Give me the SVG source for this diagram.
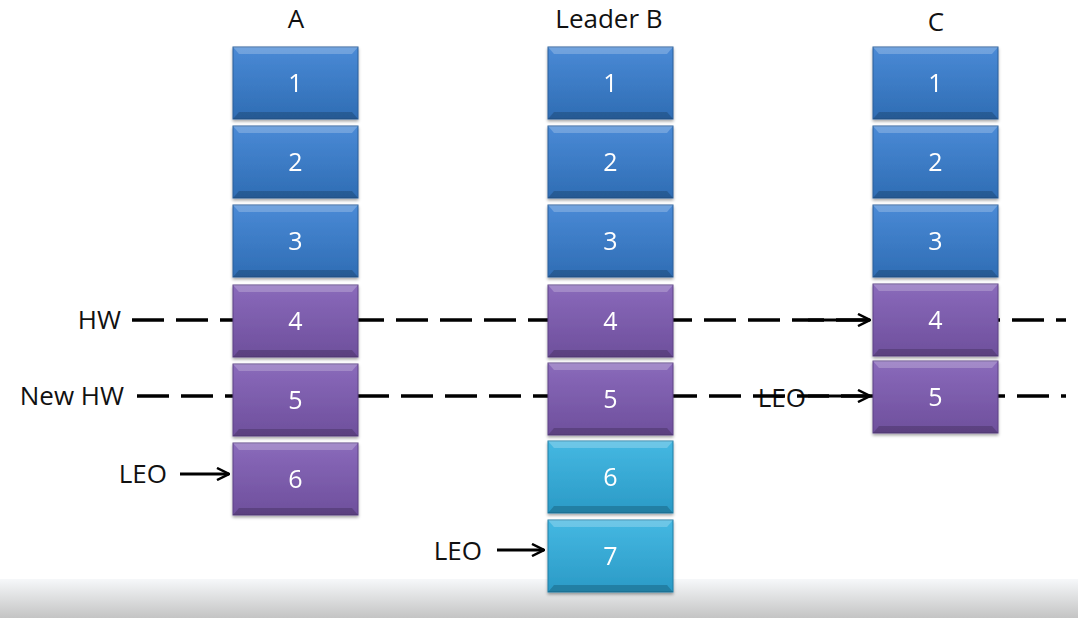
<svg xmlns="http://www.w3.org/2000/svg" width="1078" height="618" viewBox="0 0 1078 618">
<style>
.lbl{font-family:"Open Sans","Liberation Sans",sans-serif;font-size:26px;fill:#111}
.num{font-family:"Open Sans","Liberation Sans",sans-serif;font-size:25px;fill:#fff;text-anchor:middle}
.dash{stroke:#000;stroke-width:3.5;stroke-dasharray:32 12;fill:none}
.arr{stroke:#000;stroke-width:3;fill:none}
.blue{fill:url(#gBlue);stroke:#2a5f9a;stroke-width:1}
.purple{fill:url(#gPurple);stroke:#5d4385;stroke-width:1}
.cyan{fill:url(#gCyan);stroke:#1f7fa6;stroke-width:1}
.bev{fill:#ffffff;opacity:0.22}
.bevd{fill:#000;opacity:0.18}
</style>
<defs>
<linearGradient id="gBlue" x1="0" y1="0" x2="0" y2="1">
<stop offset="0" stop-color="#4a8ad6"/><stop offset="1" stop-color="#2f6db4"/>
</linearGradient>
<linearGradient id="gPurple" x1="0" y1="0" x2="0" y2="1">
<stop offset="0" stop-color="#8a6abb"/><stop offset="1" stop-color="#6e4f9c"/>
</linearGradient>
<linearGradient id="gCyan" x1="0" y1="0" x2="0" y2="1">
<stop offset="0" stop-color="#45b8e2"/><stop offset="1" stop-color="#2a9ac6"/>
</linearGradient>
<linearGradient id="gBar" x1="0" y1="0" x2="0" y2="1">
<stop offset="0" stop-color="#f6f8fa"/><stop offset="1" stop-color="#c4c4c4"/>
</linearGradient>
<filter id="sh" x="-10%" y="-10%" width="120%" height="130%">
<feDropShadow dx="0" dy="2" stdDeviation="1.5" flood-color="#000" flood-opacity="0.35"/>
</filter>
<marker id="ah" viewBox="0 0 14 14" refX="13" refY="7" markerWidth="14" markerHeight="14" markerUnits="userSpaceOnUse" orient="auto">
<path d="M1,1 L13,7 L1,13" stroke="#000" stroke-width="2.5" fill="none"/>
</marker>
<g id="bevelShape">
<polygon class="bev" points="0,0 125,0 119,7 6,7"/>
<polygon class="bevd" points="6,65 119,65 125,72 0,72"/>
</g>
</defs>

<rect x="0" y="579" width="1078" height="39" fill="url(#gBar)"/>

<text class="lbl" x="296" y="28" text-anchor="middle">A</text>
<text class="lbl" x="609" y="28" text-anchor="middle">Leader B</text>
<text class="lbl" x="936" y="31" text-anchor="middle">C</text>

<text class="lbl" x="121" y="329" text-anchor="end">HW</text>
<text class="lbl" x="124" y="405" text-anchor="end">New HW</text>
<text class="lbl" x="167" y="483" text-anchor="end">LEO</text>
<text class="lbl" x="482" y="560" text-anchor="end">LEO</text>
<text class="lbl" x="806" y="407" text-anchor="end">LEO</text>

<g id="connectors">
<line class="dash" x1="132" y1="320" x2="1066" y2="320"/>
<line class="dash" x1="137" y1="396" x2="1066" y2="396"/>
<line class="arr" x1="808" y1="320" x2="870" y2="320" marker-end="url(#ah)"/>
<line class="arr" x1="808" y1="396" x2="870" y2="396" marker-end="url(#ah)"/>
<line class="arr" x1="180" y1="474" x2="229" y2="474" marker-end="url(#ah)"/>
<line class="arr" x1="497" y1="550" x2="544" y2="550" marker-end="url(#ah)"/>
</g>

<g id="A">
<g id="A1" transform="translate(233,47)" filter="url(#sh)"><rect class="blue" width="125" height="72"/><use href="#bevelShape"/><text class="num" x="62.5" y="45">1</text></g>
<g id="A2" transform="translate(233,126)" filter="url(#sh)"><rect class="blue" width="125" height="72"/><use href="#bevelShape"/><text class="num" x="62.5" y="45">2</text></g>
<g id="A3" transform="translate(233,205)" filter="url(#sh)"><rect class="blue" width="125" height="72"/><use href="#bevelShape"/><text class="num" x="62.5" y="45">3</text></g>
<g id="A4" transform="translate(233,285)" filter="url(#sh)"><rect class="purple" width="125" height="72"/><use href="#bevelShape"/><text class="num" x="62.5" y="45">4</text></g>
<g id="A5" transform="translate(233,364)" filter="url(#sh)"><rect class="purple" width="125" height="72"/><use href="#bevelShape"/><text class="num" x="62.5" y="45">5</text></g>
<g id="A6" transform="translate(233,443)" filter="url(#sh)"><rect class="purple" width="125" height="72"/><use href="#bevelShape"/><text class="num" x="62.5" y="45">6</text></g>
</g>

<g id="B">
<g id="B1" transform="translate(548,47)" filter="url(#sh)"><rect class="blue" width="125" height="72"/><use href="#bevelShape"/><text class="num" x="62.5" y="45">1</text></g>
<g id="B2" transform="translate(548,126)" filter="url(#sh)"><rect class="blue" width="125" height="72"/><use href="#bevelShape"/><text class="num" x="62.5" y="45">2</text></g>
<g id="B3" transform="translate(548,205)" filter="url(#sh)"><rect class="blue" width="125" height="72"/><use href="#bevelShape"/><text class="num" x="62.5" y="45">3</text></g>
<g id="B4" transform="translate(548,285)" filter="url(#sh)"><rect class="purple" width="125" height="72"/><use href="#bevelShape"/><text class="num" x="62.5" y="45">4</text></g>
<g id="B5" transform="translate(548,363)" filter="url(#sh)"><rect class="purple" width="125" height="72"/><use href="#bevelShape"/><text class="num" x="62.5" y="45">5</text></g>
<g id="B6" transform="translate(548,441)" filter="url(#sh)"><rect class="cyan" width="125" height="72"/><use href="#bevelShape"/><text class="num" x="62.5" y="45">6</text></g>
<g id="B7" transform="translate(548,520)" filter="url(#sh)"><rect class="cyan" width="125" height="72"/><use href="#bevelShape"/><text class="num" x="62.5" y="45">7</text></g>
</g>

<g id="C">
<g id="C1" transform="translate(873,47)" filter="url(#sh)"><rect class="blue" width="125" height="72"/><use href="#bevelShape"/><text class="num" x="62.5" y="45">1</text></g>
<g id="C2" transform="translate(873,126)" filter="url(#sh)"><rect class="blue" width="125" height="72"/><use href="#bevelShape"/><text class="num" x="62.5" y="45">2</text></g>
<g id="C3" transform="translate(873,205)" filter="url(#sh)"><rect class="blue" width="125" height="72"/><use href="#bevelShape"/><text class="num" x="62.5" y="45">3</text></g>
<g id="C4" transform="translate(873,284)" filter="url(#sh)"><rect class="purple" width="125" height="72"/><use href="#bevelShape"/><text class="num" x="62.5" y="45">4</text></g>
<g id="C5" transform="translate(873,361)" filter="url(#sh)"><rect class="purple" width="125" height="72"/><use href="#bevelShape"/><text class="num" x="62.5" y="45">5</text></g>
</g>
</svg>
